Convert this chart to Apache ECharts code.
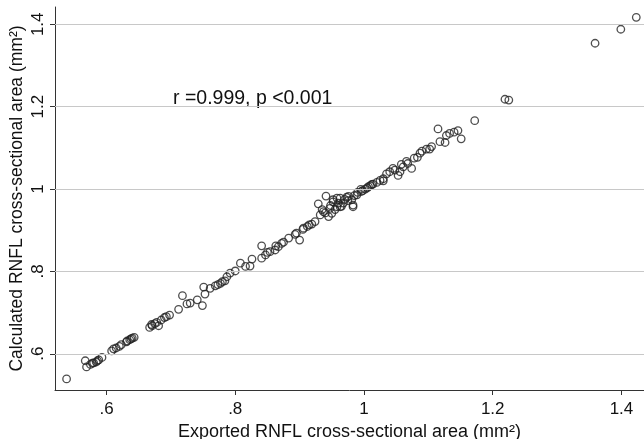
<!DOCTYPE html>
<html>
<head>
<meta charset="utf-8">
<script src="https://cdn.jsdelivr.net/npm/echarts@6/dist/echarts.min.js"></script>
<style>html,body{margin:0;padding:0;background:#fff;}#c{width:644px;height:439px;}</style>
</head>
<body>
<div id="c"></div>
<script>
var xTicks = [0.6, 0.8, 1.0, 1.2, 1.4];
var yTicks = [0.6, 0.8, 1.0, 1.2, 1.4];
var exported = [
0.538,0.567,0.569,0.580,0.584,0.588,0.593,0.608,0.611,0.620,0.623,0.631,0.636,0.640,0.643,
0.667,0.671,0.675,0.681,0.685,0.690,0.698,0.712,0.718,0.725,0.730,0.741,0.749,0.753,0.751,
0.761,0.769,0.777,0.784,0.787,0.792,0.808,0.816,0.823,0.826,0.841,0.841,0.847,0.854,0.862,
0.867,0.872,0.883,0.893,0.900,0.906,0.912,0.919,0.924,0.929,0.932,0.937,0.941,0.945,0.947,
0.950,0.952,0.958,0.963,0.968,0.973,0.981,0.983,0.989,0.996,1.002,1.007,1.014,1.030,1.172,
1.115,1.146,1.151,1.133,1.128,1.118,1.126,1.102,1.087,1.083,1.074,1.066,1.061,1.056,1.053,
1.048,1.040,1.035,1.030,0.983,0.976,0.963,0.958,0.952,1.219,1.225,1.359,1.399,1.423,
0.990,0.995,1.005,1.010,1.020,1.025,0.998,1.012,0.985,0.975,0.970,0.960,0.955,0.948,0.940,
0.935,0.965,1.045,1.058,1.068,1.078,1.090,1.097,1.105,1.140,0.905,0.915,0.895,0.875,0.863,
0.850,0.800,0.780,0.773,0.670,0.678,0.693,0.632,0.638,0.615,0.578,0.586,0.575
];
var calculated = [
0.539,0.583,0.568,0.578,0.580,0.585,0.591,0.607,0.612,0.618,0.622,0.629,0.634,0.638,0.640,
0.664,0.668,0.673,0.668,0.682,0.688,0.694,0.708,0.741,0.721,0.723,0.731,0.717,0.745,0.762,
0.759,0.765,0.771,0.777,0.787,0.796,0.820,0.812,0.813,0.830,0.862,0.832,0.840,0.848,0.852,
0.860,0.868,0.881,0.890,0.876,0.905,0.909,0.915,0.921,0.964,0.937,0.945,0.983,0.933,0.953,
0.941,0.969,0.957,0.978,0.966,0.980,0.974,0.961,0.986,0.994,1.000,1.006,1.012,1.020,1.166,
1.146,1.142,1.122,1.135,1.130,1.115,1.113,1.097,1.087,1.077,1.050,1.067,1.054,1.042,1.033,
1.046,1.042,1.037,1.025,0.957,0.982,0.957,0.978,0.974,1.218,1.216,1.354,1.388,1.417,
0.992,0.999,1.003,1.008,1.016,1.021,0.996,1.011,0.984,0.972,0.975,0.966,0.950,0.960,0.942,
0.950,0.958,1.050,1.060,1.062,1.075,1.092,1.097,1.103,1.138,0.902,0.913,0.893,0.871,0.862,
0.846,0.801,0.775,0.768,0.671,0.676,0.690,0.631,0.636,0.614,0.577,0.583,0.574
];
var annotation = 'r =0.999, p <0.001';
var xTitle = 'Exported RNFL cross-sectional area (mm\u00B2)';
var yTitle = 'Calculated RNFL cross-sectional area (mm\u00B2)';

var points = exported.map(function (x, i) { return [x, calculated[i]]; });
var fmt = function (v) { return String(+v.toFixed(2)).replace(/^0\./, '.'); };
var FONT = 'Liberation Sans';
var TXT = '#111';

var chart = echarts.init(document.getElementById('c'), null, {renderer: 'canvas'});
chart.setOption({
  animation: false,
  backgroundColor: '#fff',
  grid: {left: 55, right: 0, top: 7, bottom: 49, containLabel: false, outerBoundsMode: 'none'},
  xAxis: {
    type: 'value', min: 0.52, max: 1.435,
    name: xTitle, nameLocation: 'middle', nameGap: 33,
    nameTextStyle: {fontFamily: FONT, fontSize: 18, color: TXT},
    axisLine: {show: true, lineStyle: {color: '#333', width: 1}},
    axisTick: {show: true, customValues: xTicks, length: 5, lineStyle: {color: '#333'}},
    axisLabel: {customValues: xTicks, formatter: fmt, fontFamily: FONT, fontSize: 17, color: TXT, margin: 11},
    splitLine: {show: false}
  },
  yAxis: {
    type: 'value', min: 0.512, max: 1.442,
    name: yTitle, nameLocation: 'middle', nameGap: 29, nameRotate: 90, nameMoveOverlap: false,
    nameTextStyle: {fontFamily: FONT, fontSize: 17.5, color: TXT},
    axisLine: {show: true, lineStyle: {color: '#333', width: 1}},
    axisTick: {show: true, customValues: yTicks, length: 5, lineStyle: {color: '#333'}},
    axisLabel: {customValues: yTicks, formatter: fmt, rotate: 90, fontFamily: FONT, fontSize: 17, color: TXT, margin: 8},
    splitLine: {show: false}
  },
  graphic: [{
    type: 'text', left: 173, top: 89,
    style: {text: annotation, fontFamily: FONT, fontSize: 19.5, fill: TXT}
  }],
  series: [{
    type: 'line', data: [], silent: true, z: 1,
    markLine: {
      silent: true, symbol: 'none', animation: false,
      label: {show: false},
      lineStyle: {color: '#c8c8c8', width: 1.2, type: 'solid'},
      data: yTicks.map(function (v) { return {yAxis: v}; })
    }
  }, {
    type: 'scatter', z: 3,
    data: points,
    symbol: 'circle', symbolSize: 7.5,
    itemStyle: {color: 'rgba(255,255,255,0)', borderColor: '#222', borderWidth: 1.3}
  }]
});
</script>
</body>
</html>
